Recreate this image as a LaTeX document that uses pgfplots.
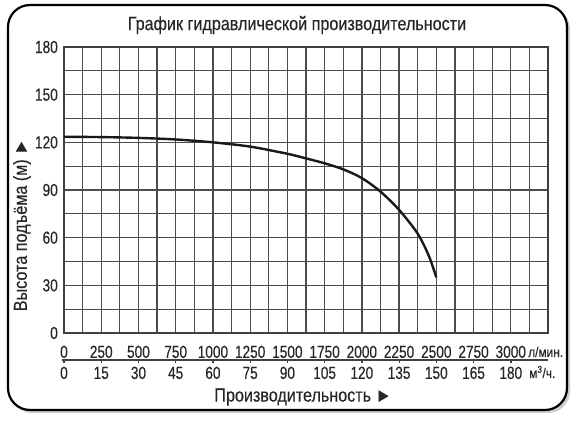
\documentclass[border=0pt]{standalone}
\usepackage{fontspec}
\setmainfont{Liberation Sans}[FakeStretch=0.85, FakeBold=0.25]
\newfontfamily\numfont{Liberation Sans}[FakeStretch=0.78, FakeBold=0.25]
\usepackage{pgfplots}
\pgfplotsset{compat=1.18}
\begin{document}
\begin{tikzpicture}
\path[use as bounding box] (0bp,0bp) rectangle (578bp,427bp);
\fill[black!20, rounded corners=22bp] (10bp,14bp) rectangle (570bp,420bp);
\draw[line width=2.2bp, fill=white, rounded corners=22bp] (8bp,17bp) rectangle (567bp,422bp);
\node[font=\fontsize{19bp}{21bp}\selectfont, text=black!85] at (297bp,402bp) {График гидравлической производительности};
\begin{axis}[
  at={(64bp,94bp)}, anchor=south west,
  scale only axis, width=484bp, height=286bp,
  xmin=0, xmax=3250, ymin=0, ymax=180,
  xtick={0,250,...,3000},
  minor xtick={125,375,625,875,1125,1375,1625,1875,2125,2375,2625,2875,3125},
  ytick={0,30,...,180},
  minor ytick={15,45,75,105,135,165},
  grid=both,
  major grid style={black!70, line width=1.3bp},
  minor grid style={black!70, line width=1.3bp},
  axis line style={black!75, line width=1.5bp},
  major tick length=0pt, minor tick length=0pt,
  /pgf/number format/assume math mode=true,
  yticklabel style={font=\numfont\fontsize{17.5bp}{19bp}\selectfont, text=black!85, anchor=east, inner sep=0pt, xshift=-6bp},
  xticklabels={{0\\0},{250\\15},{500\\30},{750\\45},{1000\\60},{1250\\75},{1500\\90},{1750\\105},{2000\\120},{2250\\135},{2500\\150},{2750\\165},{3000\\180}},
  xticklabel style={font=\numfont\fontsize{17.5bp}{21bp}\selectfont, text=black!85, align=center, anchor=north, inner sep=0pt, yshift=-12.5bp},
  clip=false,
]
\addplot[black!90, line width=2.4bp, smooth, tension=0.5] coordinates {
(0,123.5) (250,123.3) (500,122.8) (750,121.8) (1000,120.0) (1250,117.3) (1500,112.8) (1625,109.9) (1750,106.8) (1875,103) (2000,97.5) (2125,89) (2250,77.5) (2375,62.5) (2450,48.5) (2500,35)
};
\end{axis}
\draw[black!75, line width=1.2bp] (62bp,67bp) -- (548bp,67bp);
\foreach \i in {0,...,12} {\draw[black!75, line width=1.2bp] ({(64+\i*37.25)*1bp},67bp) -- ({(64+\i*37.25)*1bp},64bp);}
\node[font=\fontsize{14bp}{16bp}\selectfont, text=black!85, anchor=base west, inner sep=0pt] at (528bp,70bp) {л/мин.};
\node[font=\fontsize{14bp}{16bp}\selectfont, text=black!85, anchor=base west, inner sep=0pt] at (529bp,49bp) {м\textsuperscript{3}/ч.};
\node[font=\fontsize{19bp}{21bp}\selectfont, text=black!85] at (303bp,30bp) {Производительность ►};
\node[font=\fontsize{19bp}{21bp}\selectfont, text=black!85, rotate=90] at (22bp,202bp) {Высота подъёма (м) ►};
\end{tikzpicture}
\end{document}
